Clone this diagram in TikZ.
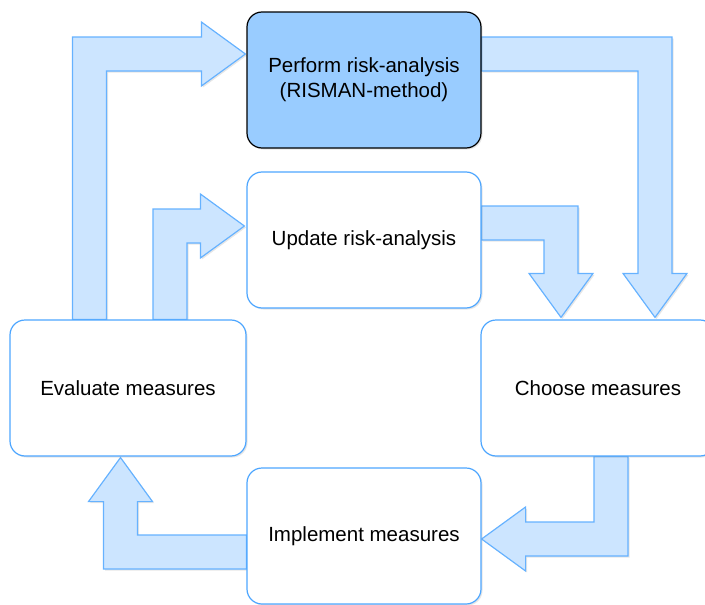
\documentclass[tikz,border=0pt]{standalone}
\usepackage{fontspec}
\setmainfont{Liberation Sans}
\usetikzlibrary{calc,shadows,backgrounds}

\definecolor{boxline}{HTML}{4DA6FF}
\definecolor{arrowline}{HTML}{66B2FF}
\definecolor{arrowfill}{HTML}{CCE5FF}
\definecolor{mainfill}{HTML}{99CCFF}

\tikzset{
  stepbox/.style={draw=boxline, line width=1.2pt, fill=white, rounded corners=15pt,
    minimum width=234pt, minimum height=136pt, inner sep=0pt, align=center,
    font=\fontsize{20.5}{25}\selectfont,
    drop shadow={opacity=0.2, shadow xshift=1.5pt, shadow yshift=-1.5pt}},
  mainbox/.style={stepbox, draw=black, fill=mainfill},
  blockarrow/.style={draw=arrowline, line width=1.2pt, fill=arrowfill,
    drop shadow={opacity=0.2, shadow xshift=1.5pt, shadow yshift=-1.5pt}}
}

\newcommand{\shaftw}{17}
\newcommand{\headw}{32}
\newcommand{\headl}{44}
% block arrow: vertical first, then horizontal (#3, #4 = directions)
\newcommand{\vharrow}[4]{%
  \draw[blockarrow] let \p1=(#1), \p2=(#2) in
    ({\x1-(#3)*\shaftw},\y1) -- ({\x1-(#3)*\shaftw},{\y2+(#4)*\shaftw})
    -- ({\x2-(#3)*\headl},{\y2+(#4)*\shaftw}) -- ({\x2-(#3)*\headl},{\y2+(#4)*\headw})
    -- (\x2,\y2) -- ({\x2-(#3)*\headl},{\y2-(#4)*\headw})
    -- ({\x2-(#3)*\headl},{\y2-(#4)*\shaftw}) -- ({\x1+(#3)*\shaftw},{\y2-(#4)*\shaftw})
    -- ({\x1+(#3)*\shaftw},\y1) -- cycle;}
% block arrow: horizontal first, then vertical
\newcommand{\hvarrow}[4]{%
  \draw[blockarrow] let \p1=(#1), \p2=(#2) in
    (\x1,{\y1-(#4)*\shaftw}) -- ({\x2+(#3)*\shaftw},{\y1-(#4)*\shaftw})
    -- ({\x2+(#3)*\shaftw},{\y2-(#4)*\headl}) -- ({\x2+(#3)*\headw},{\y2-(#4)*\headl})
    -- (\x2,\y2) -- ({\x2-(#3)*\headw},{\y2-(#4)*\headl})
    -- ({\x2-(#3)*\shaftw},{\y2-(#4)*\headl}) -- ({\x2-(#3)*\shaftw},{\y1+(#4)*\shaftw})
    -- (\x1,{\y1+(#4)*\shaftw}) -- cycle;}

\begin{document}
\begin{tikzpicture}[x=1pt, y=-1pt]
  \useasboundingbox (0,0) rectangle (705,605);

  \node[mainbox] (perform) at (364,80) {Perform risk-analysis\\(RISMAN-method)};
  \node[stepbox] (update) at (364,240) {Update risk-analysis};
  \node[stepbox, minimum width=236pt] (evaluate) at (128,388) {Evaluate measures};
  \node[stepbox] (choose) at (598,388) {Choose measures};
  \node[stepbox] (implement) at (364,536) {Implement measures};

  \coordinate (e2p) at ($(evaluate.north)+(-38.5,0)$);
  \coordinate (p2e) at ($(perform.west)+(-1,-26)$);
  \coordinate (e2u) at ($(evaluate.north)+(42,0)$);
  \coordinate (u2e) at ($(update.west)+(-2,-14)$);
  \coordinate (p2c) at ($(perform.east)+(0,-26)$);
  \coordinate (c2p) at ($(choose.north)+(57,-2)$);
  \coordinate (u2c) at ($(update.east)+(0,-17)$);
  \coordinate (c2u) at ($(choose.north)+(-37,-2)$);
  \coordinate (c2i) at ($(choose.south)+(13,0)$);
  \coordinate (i2c) at ($(implement.east)+(0,3)$);
  \coordinate (i2e) at ($(implement.west)+(0,16)$);
  \coordinate (e2i) at ($(evaluate.south)+(-7.5,1)$);

  \begin{scope}[on background layer]
    \vharrow{e2p}{p2e}{1}{1}
    \vharrow{e2u}{u2e}{1}{1}
    \hvarrow{p2c}{c2p}{1}{-1}
    \hvarrow{u2c}{c2u}{1}{-1}
    \vharrow{c2i}{i2c}{-1}{-1}
    \hvarrow{i2e}{e2i}{-1}{1}
  \end{scope}
\end{tikzpicture}
\end{document}
